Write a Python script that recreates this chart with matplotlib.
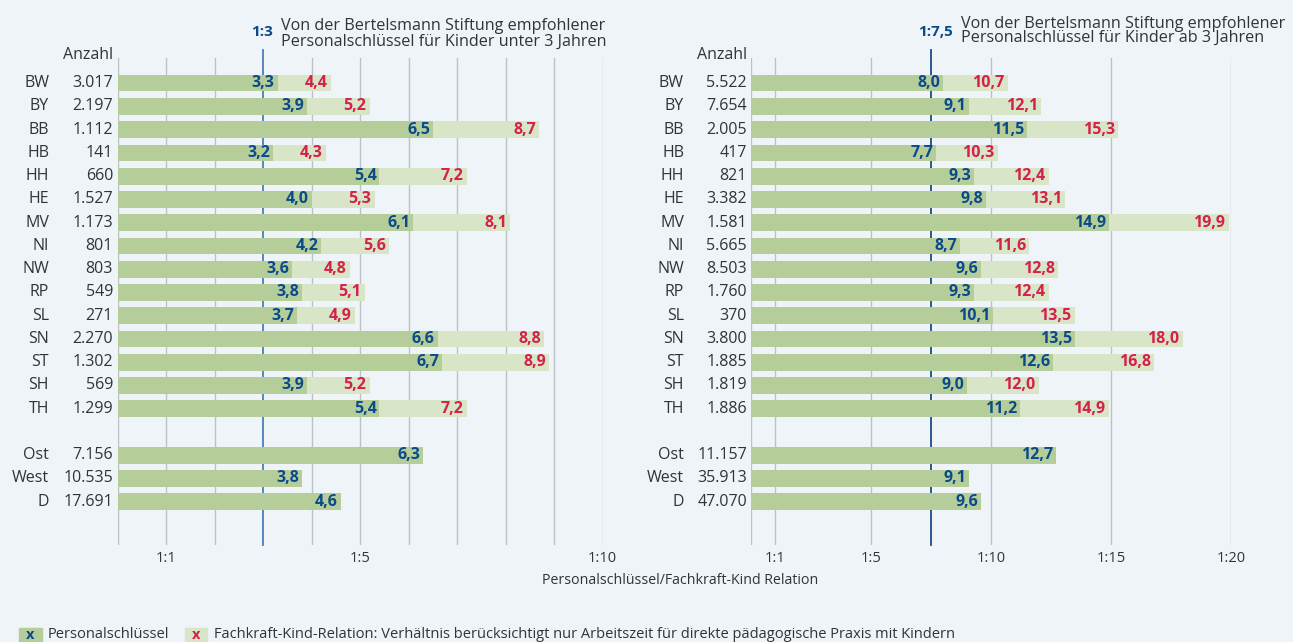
import matplotlib
matplotlib.use("Agg")
import matplotlib.pyplot as plt
from matplotlib.patches import Rectangle
import matplotlib.transforms as mtransforms

plt.rcParams['font.family'] = ['Open Sans', 'DejaVu Sans']

# Daten
laender = ["BW", "BY", "BB", "HB", "HH", "HE", "MV", "NI", "NW", "RP", "SL",
           "SN", "ST", "SH", "TH"]
gruppen = ["Ost", "West", "D"]

anzahl_u3 = [3017, 2197, 1112, 141, 660, 1527, 1173, 801, 803, 549, 271,
             2270, 1302, 569, 1299]
anzahl_u3_gruppen = [7156, 10535, 17691]
ps_u3 = [3.3, 3.9, 6.5, 3.2, 5.4, 4.0, 6.1, 4.2, 3.6, 3.8, 3.7, 6.6, 6.7, 3.9, 5.4]
ps_u3_gruppen = [6.3, 3.8, 4.6]
fkr_u3 = [4.4, 5.2, 8.7, 4.3, 7.2, 5.3, 8.1, 5.6, 4.8, 5.1, 4.9, 8.8, 8.9, 5.2, 7.2]

anzahl_ue3 = [5522, 7654, 2005, 417, 821, 3382, 1581, 5665, 8503, 1760, 370,
              3800, 1885, 1819, 1886]
anzahl_ue3_gruppen = [11157, 35913, 47070]
ps_ue3 = [8.0, 9.1, 11.5, 7.7, 9.3, 9.8, 14.9, 8.7, 9.6, 9.3, 10.1, 13.5, 12.6, 9.0, 11.2]
ps_ue3_gruppen = [12.7, 9.1, 9.6]
fkr_ue3 = [10.7, 12.1, 15.3, 10.3, 12.4, 13.1, 19.9, 11.6, 12.8, 12.4, 13.5,
           18.0, 16.8, 12.0, 14.9]

empfehlung_u3 = 3
empfehlung_ue3 = 7.5

# Farben
bg = "#EEF4F8"
gruen_dunkel = "#B5CE99"
gruen_hell = "#D8E5C6"
blau = "#0B4A8A"
rot = "#D4204C"
grau = "#BCC1C6"
txt = "#333333"

W, H = 1293, 642
fig = plt.figure(figsize=(W / 100, H / 100), dpi=100, facecolor=bg)


def de(v):
    return f"{v:.1f}".replace(".", ",")


def tsd(n):
    return f"{n:,}".replace(",", ".")


def panel(rect, anzahl, anzahl_g, ps, ps_g, fkr, xmax, grid, labels,
          empf, empf_farbe, x_name, x_zahl):
    ax = fig.add_axes(rect)
    ax.set_facecolor(bg)
    y_l = list(range(len(laender)))
    y_g = [len(laender) + 1 + i for i in range(len(gruppen))]

    ax.barh(y_l, fkr, height=0.72, color=gruen_hell, zorder=2)
    ax.barh(y_l, ps, height=0.72, color=gruen_dunkel, zorder=3)
    ax.barh(y_g, ps_g, height=0.72, color=gruen_dunkel, zorder=3)

    for y, v in zip(y_l, fkr):
        ax.annotate(de(v), (v, y), xytext=(-2.5, 0), textcoords="offset points",
                    ha="right", va="center", color=rot, fontsize=11.5,
                    fontweight="bold", zorder=5)
    for y, v in zip(y_l + y_g, ps + ps_g):
        ax.annotate(de(v), (v, y), xytext=(-2, 0), textcoords="offset points",
                    ha="right", va="center", color=blau, fontsize=11.5,
                    fontweight="bold", zorder=5)

    ax.set_xlim(0, xmax)
    ax.set_ylim(y_g[-1] + 1.86, -1.08)
    ax.set_xticks(grid)
    ax.set_xticklabels(labels, fontsize=10.5, color=txt)
    ax.tick_params(axis="x", length=0, pad=4)
    ax.set_yticks([])
    ax.grid(axis="x", color=grau, linewidth=1.0, zorder=0)
    for s in ax.spines.values():
        s.set_visible(False)
    ax.axvline(empf, ymin=0, ymax=1.017, color=empf_farbe, linewidth=1.3,
               zorder=1, clip_on=False)

    tr = mtransforms.blended_transform_factory(fig.transFigure, ax.transData)
    namen = laender + gruppen
    zahlen = anzahl + anzahl_g
    for y, n, z in zip(y_l + y_g, namen, zahlen):
        ax.text(x_name / W, y, n, transform=tr, ha="right", va="center",
                fontsize=11.5, color=txt)
        ax.text(x_zahl / W, y, tsd(z), transform=tr, ha="right", va="center",
                fontsize=11.5, color=txt)
    fig.text(x_zahl / W, 1 - 55 / H, "Anzahl", ha="right", va="center",
             fontsize=11.5, color=txt)
    return ax


ax_bot = 97 / H
ax_h = (545 - 58) / H

panel([117.5 / W, ax_bot, 485 / W, ax_h], anzahl_u3, anzahl_u3_gruppen,
      ps_u3, ps_u3_gruppen, fkr_u3, 10,
      [0, 1, 2, 4, 5, 6, 7, 8, 9, 10],
      ["", "1:1", "", "", "1:5", "", "", "", "", "1:10"],
      empfehlung_u3, "#4C7DB8", 49, 113)

panel([751 / W, ax_bot, 480 / W, ax_h], anzahl_ue3, anzahl_ue3_gruppen,
      ps_ue3, ps_ue3_gruppen, fkr_ue3, 20,
      [0, 1, 5, 10, 15, 20],
      ["", "1:1", "1:5", "1:10", "1:15", "1:20"],
      empfehlung_ue3, "#1A4B8C", 684, 747)

# Kopfzeilen
fig.text(273 / W, 1 - 32 / H, "1:3", ha="right", va="center", fontsize=11,
         fontweight="bold", color=blau)
fig.text(281 / W, 1 - 34 / H,
         "Von der Bertelsmann Stiftung empfohlener\nPersonalschlüssel für Kinder unter 3 Jahren",
         ha="left", va="center", fontsize=11.6, color=txt, linespacing=1.0)
fig.text(953 / W, 1 - 32 / H, "1:7,5", ha="right", va="center", fontsize=11,
         fontweight="bold", color=blau)
fig.text(961 / W, 1 - 31 / H,
         "Von der Bertelsmann Stiftung empfohlener\nPersonalschlüssel für Kinder ab 3 Jahren",
         ha="left", va="center", fontsize=11.6, color=txt, linespacing=0.85)

fig.text(680 / W, 1 - 581 / H, "Personalschlüssel/Fachkraft-Kind Relation",
         ha="center", va="center", fontsize=10.2, color=txt)

# Legende
for x0, farbe, xfarbe, label, xt in [
        (18.7, gruen_dunkel, blau, "Personalschlüssel", 47.7),
        (184.6, gruen_hell, rot,
         "Fachkraft-Kind-Relation: Verhältnis berücksichtigt nur Arbeitszeit für direkte pädagogische Praxis mit Kindern",
         213.7)]:
    fig.patches.append(Rectangle((x0 / W, 0), 22.8 / W, 14 / H,
                                 transform=fig.transFigure, color=farbe))
    fig.text((x0 + 11.4) / W, 1 - 635 / H, "x", ha="center", va="center",
             fontsize=10.5, fontweight="bold", color=xfarbe)
    fig.text(xt / W, 1 - 634 / H, label, ha="left", va="center",
             fontsize=10.5, color=txt)

fig.savefig("out.png", dpi=100, facecolor=bg)
